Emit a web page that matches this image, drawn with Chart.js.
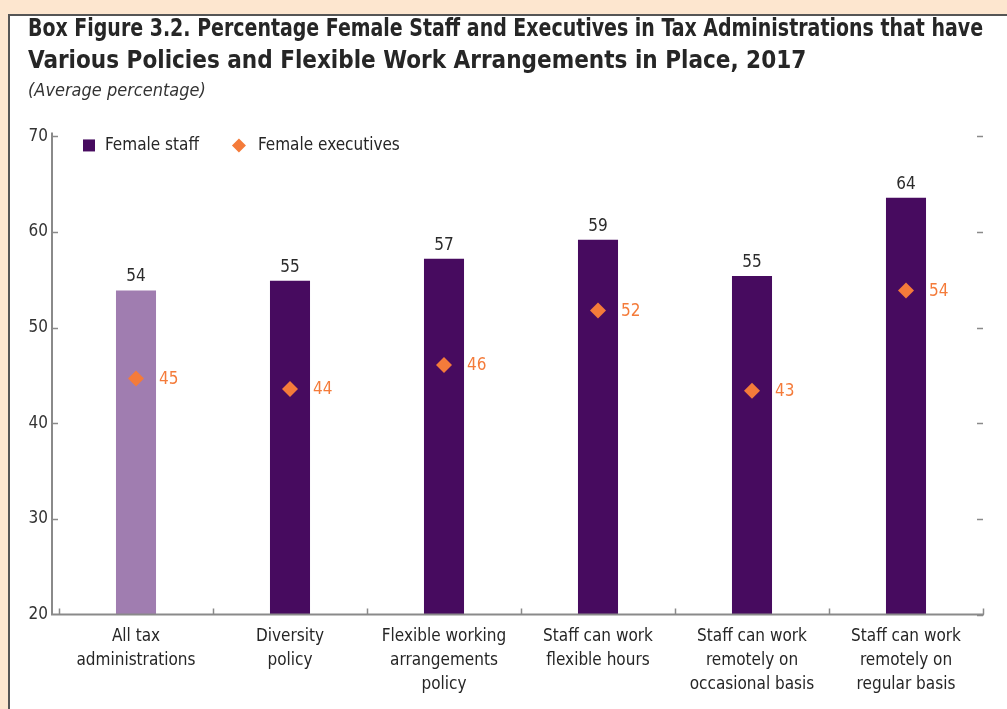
<!DOCTYPE html>
<html>
<head>
<meta charset="utf-8">
<script src="https://cdn.jsdelivr.net/npm/chart.js@4.4.1/dist/chart.umd.min.js"></script>
<style>
  html, body { margin: 0; padding: 0; background: #fde6cf; overflow: hidden; }
  #box {
    position: absolute; left: 8px; top: 14px; width: 1010px; height: 710px;
    background: #fff; border-left: 2px solid #555; border-top: 2px solid #555;
  }
  #chart { position: absolute; left: 0; top: -4px; }
</style>
</head>
<body>
<div id="box"><canvas id="chart" width="997" height="697"></canvas></div>
<script>
const categories = [
  ['All tax', 'administrations'],
  ['Diversity', 'policy'],
  ['Flexible working', 'arrangements', 'policy'],
  ['Staff can work', 'flexible hours'],
  ['Staff can work', 'remotely on', 'occasional basis'],
  ['Staff can work', 'remotely on', 'regular basis']
];
const femaleStaff = [53.9, 54.9, 57.2, 59.2, 55.4, 63.6];
const femaleExecutives = [44.7, 43.6, 46.1, 51.8, 43.4, 53.9];
const yTicks = [20, 30, 40, 50, 60, 70];

const FONT = "'Liberation Sans Narrow', 'DejaVu Sans Condensed', 'Arial Narrow', sans-serif";
const DARK = '#470b5f';
const LIGHT = '#a07db0';
const ORANGE = '#f47b3a';
const AXIS = '#8a8a8a';
const AXIS_GAP = 7;   // y axis line sits a little left of the first category

// value labels above the bars and beside the diamonds
const valueLabels = {
  id: 'valueLabels',
  afterDatasetsDraw(chart) {
    const ctx = chart.ctx;
    ctx.save();
    ctx.font = '17px ' + FONT;
    ctx.textAlign = 'center';
    ctx.textBaseline = 'bottom';
    ctx.fillStyle = '#2b2b2b';
    chart.getDatasetMeta(0).data.forEach((bar, i) => {
      ctx.fillText(Math.round(femaleStaff[i]), bar.x, bar.y - 5);
    });
    ctx.textAlign = 'left';
    ctx.textBaseline = 'middle';
    ctx.fillStyle = ORANGE;
    chart.getDatasetMeta(1).data.forEach((pt, i) => {
      ctx.fillText(Math.round(femaleExecutives[i]), pt.x + 23, pt.y + 1);
    });
    ctx.restore();
  }
};

// legend drawn inside the top-left of the plot
const innerLegend = {
  id: 'innerLegend',
  afterDraw(chart) {
    const ctx = chart.ctx;
    const a = chart.chartArea;
    const y = a.top + 9;
    ctx.save();
    ctx.font = '17px ' + FONT;
    ctx.textBaseline = 'middle';
    ctx.textAlign = 'left';
    let x = a.left + 24;
    ctx.fillStyle = DARK;
    ctx.fillRect(x, y - 6, 12, 12);
    x += 22;
    ctx.fillStyle = '#262626';
    ctx.fillText(chart.data.datasets[0].label, x, y);
    x += ctx.measureText(chart.data.datasets[0].label).width + 40;
    ctx.fillStyle = ORANGE;
    ctx.beginPath();
    ctx.moveTo(x, y - 7); ctx.lineTo(x + 7, y); ctx.lineTo(x, y + 7); ctx.lineTo(x - 7, y);
    ctx.closePath();
    ctx.fill();
    ctx.fillStyle = '#262626';
    ctx.fillText(chart.data.datasets[1].label, x + 19, y);
    ctx.restore();
  }
};

// axis lines plus short tick marks pointing into the plot
const axesAndTicks = {
  id: 'axesAndTicks',
  afterDraw(chart) {
    const ctx = chart.ctx;
    const a = chart.chartArea;
    const y = chart.scales.y;
    const x = chart.scales.x;
    const left = a.left - AXIS_GAP;
    ctx.save();
    ctx.strokeStyle = AXIS;
    ctx.lineWidth = 2;
    ctx.beginPath();
    ctx.moveTo(left, a.top - 4);
    ctx.lineTo(left, a.bottom);
    ctx.lineTo(a.right + 1, a.bottom);
    ctx.stroke();
    ctx.lineWidth = 1.5;
    ctx.beginPath();
    yTicks.forEach(v => {
      const py = Math.round(y.getPixelForValue(v)) + 0.5;
      if (v !== yTicks[0]) {
        ctx.moveTo(left, py); ctx.lineTo(left + 6, py);
      }
      ctx.moveTo(a.right - 6, py); ctx.lineTo(a.right, py);
    });
    const step = x.getPixelForValue(1) - x.getPixelForValue(0);
    for (let i = 0; i <= categories.length; i++) {
      const px = Math.round(x.getPixelForValue(0) - step / 2 + i * step) + 0.5;
      ctx.moveTo(px, a.bottom); ctx.lineTo(px, a.bottom - 6);
    }
    ctx.stroke();
    ctx.restore();
  }
};

new Chart('chart', {
  type: 'bar',
  data: {
    labels: categories,
    datasets: [{
      label: 'Female staff',
      data: femaleStaff,
      backgroundColor: femaleStaff.map((v, i) => i === 0 ? LIGHT : DARK),
      barPercentage: 0.26,
      categoryPercentage: 1,
      order: 2
    }, {
      label: 'Female executives',
      type: 'line',
      data: femaleExecutives,
      showLine: false,
      pointStyle: 'rectRot',
      pointRadius: 8,
      pointBackgroundColor: ORANGE,
      pointBorderWidth: 0,
      backgroundColor: ORANGE,
      borderColor: ORANGE,
      order: 1
    }]
  },
  options: {
    responsive: false,
    animation: false,
    layout: { padding: { left: 18, right: 24, top: 0, bottom: 3 } },
    plugins: {
      title: {
        display: true,
        align: 'start',
        text: [
          'Box Figure 3.2. Percentage Female Staff and Executives in Tax Administrations that have',
          'Various Policies and Flexible Work Arrangements in Place, 2017'
        ],
        color: '#262626',
        font: { family: FONT, size: 24, weight: 'bold', lineHeight: 1.33 },
        padding: { top: 2, bottom: 0 }
      },
      subtitle: {
        display: true,
        align: 'start',
        text: '(Average percentage)',
        color: '#333',
        font: { family: FONT, size: 18, style: 'italic' },
        padding: { top: 3, bottom: 34 }
      },
      legend: { display: false },
      tooltip: { enabled: false }
    },
    scales: {
      x: {
        grid: { display: false, drawTicks: false, tickLength: 0 },
        border: { display: false },
        ticks: {
          color: '#262626',
          font: { family: FONT, size: 17, lineHeight: 1.4 },
          maxRotation: 0,
          autoSkip: false,
          padding: 10
        }
      },
      y: {
        min: 20,
        max: 70,
        afterBuildTicks: scale => { scale.ticks = yTicks.map(v => ({ value: v })); },
        afterFit: scale => { scale.width = 31; },
        grid: { display: false, drawTicks: false, tickLength: 0 },
        border: { display: false },
        ticks: {
          color: '#333',
          font: { family: FONT, size: 17 },
          padding: 11
        }
      }
    }
  },
  plugins: [valueLabels, innerLegend, axesAndTicks]
});
</script>
</body>
</html>
